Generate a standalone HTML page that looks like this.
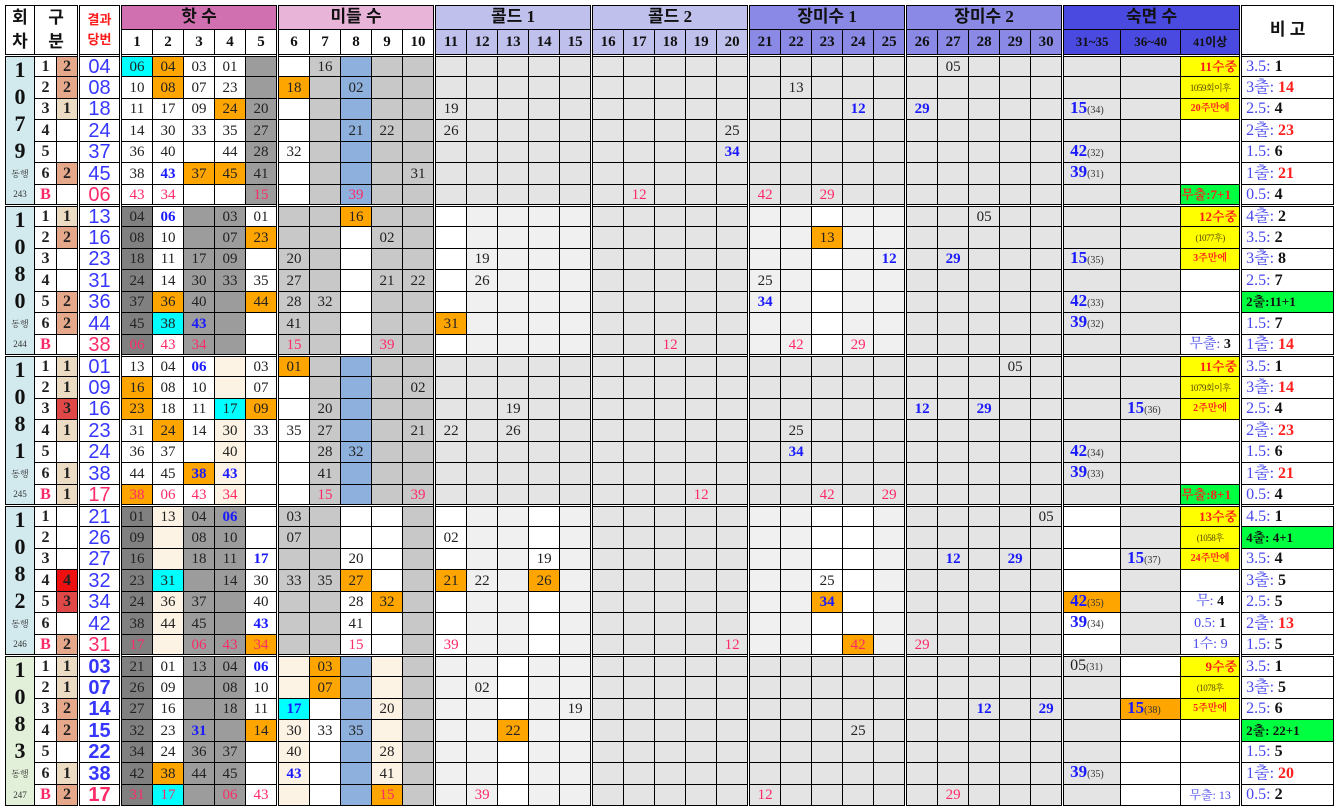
<!DOCTYPE html>
<html><head><meta charset="utf-8"><style>
body{margin:0;background:#fff;}
table{position:absolute;left:5px;top:5px;border-collapse:collapse;table-layout:fixed;width:1328px;font-family:"Liberation Serif","Noto Serif CJK KR",serif;}
td,th{border:1px solid #000;padding:0;overflow:hidden;white-space:nowrap;}
th{font-family:"Liberation Serif","Noto Sans CJK KR",sans-serif;font-weight:bold;font-size:16px;color:#111;line-height:18px}
thead tr.h1{height:23px}thead tr.h2{height:25px}
thead tr.h2 th{font-size:15px}
tbody tr{height:21px}
tbody td{height:20px;box-sizing:border-box}
tbody tr:nth-child(7n+2),tbody tr:nth-child(7n+4),tbody tr:nth-child(7n+6){height:22px}
tbody tr:nth-child(7n+2) td,tbody tr:nth-child(7n+4) td,tbody tr:nth-child(7n+6) td{height:21px}
td{font-size:15px;color:#222;text-align:center;background:#fff;line-height:14px}
td span{line-height:14px}
tbody td:nth-child(4),tbody td:nth-child(5),tbody td:nth-child(10),tbody td:nth-child(15),tbody td:nth-child(20),tbody td:nth-child(25),tbody td:nth-child(30),tbody td:nth-child(35),tbody td:nth-child(38){border-left:3px double #000}
.sl{border-left:3px double #000}
tr.t td{border-top:3px double #000}
tbody tr td:first-child{background:#d2e9ee;border-top-style:hidden}
tbody tr.t td:first-child{border-top:3px double #000}
tbody tr.b5 td:first-child{background:#e2efd9}
tbody td:nth-child(2),tbody td:nth-child(3){font-weight:bold;font-size:16px}
tbody td:nth-child(4){font-family:"Liberation Sans",sans-serif;font-size:20px;color:#3636ff}
tr.b5 td:nth-child(4){font-weight:bold}
tbody td:nth-child(n+15):nth-child(-n+36){background:#e4e4e4}
tbody td:nth-child(38){text-align:left;padding-left:4px;font-size:16px;font-weight:bold;color:#111}
tbody td:nth-child(37){font-size:14px}
tbody td:nth-child(35),tbody td:nth-child(36){text-align:left;padding-left:6px}
td.n{position:relative;overflow:visible}
.dg{position:absolute;left:0;right:0;top:0;height:107px;display:flex;flex-direction:column;justify-content:space-around;font-weight:bold;font-size:22px;line-height:22px;color:#111;text-align:center;z-index:2}
td.sm{font-size:9px!important;color:#333}
tr.b1 td:nth-child(9){background:#9c9c9c}
tr.b1 td:nth-child(11),tr.b1 td:nth-child(13),tr.b1 td:nth-child(14){background:#c8c8c8}
tr.b1 td:nth-child(12){background:#8db0dc}
tr.b2 td:nth-child(5){background:#808080}
tr.b2 td:nth-child(7),tr.b2 td:nth-child(8){background:#9c9c9c}
tr.b2 td:nth-child(10),tr.b2 td:nth-child(11),tr.b2 td:nth-child(13),tr.b2 td:nth-child(14){background:#c8c8c8}
tr.b2 td:nth-child(15),tr.b2 td:nth-child(27){background:#fff}
tr.b2 td:nth-child(n+16):nth-child(-n+19),tr.b2 td:nth-child(25),tr.b2 td:nth-child(26),tr.b2 td:nth-child(28),tr.b2 td:nth-child(29){background:#f0f0f0}
tr.b3 td:nth-child(8){background:#fdf3e4}
tr.b3 td:nth-child(11),tr.b3 td:nth-child(13),tr.b3 td:nth-child(14){background:#c8c8c8}
tr.b3 td:nth-child(12){background:#8db0dc}
tr.b4 td:nth-child(5){background:#808080}
tr.b4 td:nth-child(6){background:#fdf3e4}
tr.b4 td:nth-child(7),tr.b4 td:nth-child(8){background:#9c9c9c}
tr.b4 td:nth-child(10),tr.b4 td:nth-child(11),tr.b4 td:nth-child(14){background:#c8c8c8}
tr.b4 td:nth-child(15),tr.b4 td:nth-child(18),tr.b4 td:nth-child(27),tr.b4 td:nth-child(28),tr.b4 td:nth-child(35){background:#fff}
tr.b4 td:nth-child(16),tr.b4 td:nth-child(17),tr.b4 td:nth-child(19),tr.b4 td:nth-child(25),tr.b4 td:nth-child(26),tr.b4 td:nth-child(29){background:#f0f0f0}
tr.b5 td:nth-child(5){background:#808080}
tr.b5 td:nth-child(7),tr.b5 td:nth-child(8){background:#9c9c9c}
tr.b5 td:nth-child(10),tr.b5 td:nth-child(13){background:#fdf3e4}
tr.b5 td:nth-child(12){background:#8db0dc}
tr.b5 td:nth-child(14){background:#c8c8c8}
tr.b5 td:nth-child(15),tr.b5 td:nth-child(16),tr.b5 td:nth-child(18),tr.b5 td:nth-child(19){background:#f0f0f0}
tr.b5 td:nth-child(17),tr.b5 td:nth-child(36){background:#fff}
.o{background:#ffa500!important}.y{background:#00ffff!important}.Y{background:#ffff00!important}.G{background:#00ff40!important}
.S{background:#e6a88a!important}.E{background:#ecdcc4!important}.R{background:#ee1010!important}.P{background:#e04848!important}
td.r{color:#ff2a68!important}.u{color:#1a1aff!important;font-weight:bold}
td.bb{color:#ff2a68;font-weight:bold;font-size:17px}
.q{color:#4848ee;font-weight:normal}.x{color:#ff2020}
.k{color:#1a1aff;font-weight:bold;font-size:17px}.kk{font-size:10px;color:#333}
td.h1t{color:#ff1a1a;font-weight:bold;font-size:13px!important;text-align:right!important;padding-right:2px}
td.s1{font-size:9px!important;color:#554400;letter-spacing:-0.5px}
td.s2{font-size:10px!important;color:#ff2020;font-weight:bold}
td.gt{color:#ff2020;font-weight:bold;font-size:13px!important;text-align:left!important}
td.wt{font-weight:bold;color:#111}.wt span{color:#4848ee;font-weight:normal}
</style></head><body>
<table>
<colgroup><col style="width:29px"><col style="width:22px"><col style="width:22px"><col style="width:42px">
<col style="width:32px"><col style="width:31px"><col style="width:31px"><col style="width:31px"><col style="width:32px">
<col style="width:32px"><col style="width:31px"><col style="width:31px"><col style="width:31px"><col style="width:32px">
<col style="width:32px"><col style="width:31px"><col style="width:31px"><col style="width:31px"><col style="width:32px">
<col style="width:32px"><col style="width:31px"><col style="width:31px"><col style="width:31px"><col style="width:32px">
<col style="width:32px"><col style="width:31px"><col style="width:31px"><col style="width:31px"><col style="width:32px">
<col style="width:32px"><col style="width:31px"><col style="width:31px"><col style="width:31px"><col style="width:32px">
<col style="width:58px"><col style="width:60px"><col style="width:60px"><col style="width:93px"></colgroup>
<thead>
<tr class="h1"><th rowspan="2" style="font-size:17px;line-height:24px">회<br>차</th><th colspan="2" rowspan="2" style="font-size:17px;line-height:24px">구<br>분</th><th rowspan="2" class="sl" style="color:#ff1a1a;font-size:13px;line-height:20px">결과<br>당번</th>
<th colspan="5" class="sl" style="background:#d070b0;font-size:17px">핫 수</th>
<th colspan="5" class="sl" style="background:#e8b4d8;font-size:17px">미들 수</th>
<th colspan="5" class="sl" style="background:#c0c0ec;font-size:17px">콜드 1</th>
<th colspan="5" class="sl" style="background:#c0c0ec;font-size:17px">콜드 2</th>
<th colspan="5" class="sl" style="background:#8a8ae6;font-size:17px">장미수 1</th>
<th colspan="5" class="sl" style="background:#8a8ae6;font-size:17px">장미수 2</th>
<th colspan="3" class="sl" style="background:#4a4ae0;font-size:17px">숙면 수</th>
<th rowspan="2" class="sl" style="font-size:17px">비 고</th></tr>
<tr class="h2"><th class="sl">1</th><th>2</th><th>3</th><th>4</th><th>5</th>
<th class="sl">6</th><th>7</th><th>8</th><th>9</th><th>10</th>
<th class="sl" style="background:#c0c0ec">11</th><th style="background:#c0c0ec">12</th><th style="background:#c0c0ec">13</th><th style="background:#c0c0ec">14</th><th style="background:#c0c0ec">15</th>
<th class="sl" style="background:#c0c0ec">16</th><th style="background:#c0c0ec">17</th><th style="background:#c0c0ec">18</th><th style="background:#c0c0ec">19</th><th style="background:#c0c0ec">20</th>
<th class="sl" style="background:#8a8ae6">21</th><th style="background:#8a8ae6">22</th><th style="background:#8a8ae6">23</th><th style="background:#8a8ae6">24</th><th style="background:#8a8ae6">25</th>
<th class="sl" style="background:#8a8ae6">26</th><th style="background:#8a8ae6">27</th><th style="background:#8a8ae6">28</th><th style="background:#8a8ae6">29</th><th style="background:#8a8ae6">30</th>
<th class="sl" style="background:#4a4ae0;font-size:13px">31~35</th><th style="background:#4a4ae0;font-size:13px">36~40</th><th style="background:#4a4ae0;font-size:12px">41이상</th></tr>
</thead>
<tbody>
<tr class="b1 t"><td class="n"><div class="dg"><span>1</span><span>0</span><span>7</span><span>9</span></div></td><td>1</td><td class="S">2</td><td>04</td>
<td class="y">06</td><td class="o">04</td><td>03</td><td>01</td><td></td>
<td></td><td>16</td><td></td><td></td><td></td>
<td></td><td></td><td></td><td></td><td></td>
<td></td><td></td><td></td><td></td><td></td>
<td></td><td></td><td></td><td></td><td></td>
<td></td><td>05</td><td></td><td></td><td></td>
<td></td><td></td><td class="Y h1t">11수중</td><td><span class="q">3.5:</span> 1</td></tr>
<tr class="b1"><td></td><td>2</td><td class="S">2</td><td>08</td>
<td>10</td><td class="o">08</td><td>07</td><td>23</td><td></td>
<td class="o">18</td><td></td><td>02</td><td></td><td></td>
<td></td><td></td><td></td><td></td><td></td>
<td></td><td></td><td></td><td></td><td></td>
<td></td><td>13</td><td></td><td></td><td></td>
<td></td><td></td><td></td><td></td><td></td>
<td></td><td></td><td class="Y s1">1059회이후</td><td><span class="q">3출:</span> <span class="x">14</span></td></tr>
<tr class="b1"><td></td><td>3</td><td class="E">1</td><td>18</td>
<td>11</td><td>17</td><td>09</td><td class="o">24</td><td>20</td>
<td></td><td></td><td></td><td></td><td></td>
<td>19</td><td></td><td></td><td></td><td></td>
<td></td><td></td><td></td><td></td><td></td>
<td></td><td></td><td></td><td class="u">12</td><td></td>
<td class="u">29</td><td></td><td></td><td></td><td></td>
<td><span class="k">15</span><span class="kk">(34)</span></td><td></td><td class="Y s2">20주만에</td><td><span class="q">2.5:</span> 4</td></tr>
<tr class="b1"><td></td><td>4</td><td></td><td>24</td>
<td>14</td><td>30</td><td>33</td><td>35</td><td>27</td>
<td></td><td></td><td>21</td><td>22</td><td></td>
<td>26</td><td></td><td></td><td></td><td></td>
<td></td><td></td><td></td><td></td><td>25</td>
<td></td><td></td><td></td><td></td><td></td>
<td></td><td></td><td></td><td></td><td></td>
<td></td><td></td><td></td><td><span class="q">2출:</span> <span class="x">23</span></td></tr>
<tr class="b1"><td></td><td>5</td><td></td><td>37</td>
<td>36</td><td>40</td><td></td><td>44</td><td>28</td>
<td>32</td><td></td><td></td><td></td><td></td>
<td></td><td></td><td></td><td></td><td></td>
<td></td><td></td><td></td><td></td><td class="u">34</td>
<td></td><td></td><td></td><td></td><td></td>
<td></td><td></td><td></td><td></td><td></td>
<td><span class="k">42</span><span class="kk">(32)</span></td><td></td><td></td><td><span class="q">1.5:</span> 6</td></tr>
<tr class="b1"><td class="sm">동행</td><td>6</td><td class="S">2</td><td>45</td>
<td>38</td><td class="u">43</td><td class="o">37</td><td class="o">45</td><td>41</td>
<td></td><td></td><td></td><td></td><td>31</td>
<td></td><td></td><td></td><td></td><td></td>
<td></td><td></td><td></td><td></td><td></td>
<td></td><td></td><td></td><td></td><td></td>
<td></td><td></td><td></td><td></td><td></td>
<td><span class="k">39</span><span class="kk">(31)</span></td><td></td><td></td><td><span class="q">1출:</span> <span class="x">21</span></td></tr>
<tr class="b1"><td class="sm">243</td><td class="bb">B</td><td></td><td class="r">06</td>
<td class="r">43</td><td class="r">34</td><td></td><td></td><td class="r">15</td>
<td></td><td></td><td class="r">39</td><td></td><td></td>
<td></td><td></td><td></td><td></td><td></td>
<td></td><td class="r">12</td><td></td><td></td><td></td>
<td class="r">42</td><td></td><td class="r">29</td><td></td><td></td>
<td></td><td></td><td></td><td></td><td></td>
<td></td><td></td><td class="G gt">무출:7+1</td><td><span class="q">0.5:</span> 4</td></tr>
<tr class="b2 t"><td class="n"><div class="dg"><span>1</span><span>0</span><span>8</span><span>0</span></div></td><td>1</td><td class="E">1</td><td>13</td>
<td>04</td><td class="u">06</td><td></td><td>03</td><td>01</td>
<td></td><td></td><td class="o">16</td><td></td><td></td>
<td></td><td></td><td></td><td></td><td></td>
<td></td><td></td><td></td><td></td><td></td>
<td></td><td></td><td></td><td></td><td></td>
<td></td><td></td><td>05</td><td></td><td></td>
<td></td><td></td><td class="Y h1t">12수중</td><td><span class="q">4출:</span> 2</td></tr>
<tr class="b2"><td></td><td>2</td><td class="S">2</td><td>16</td>
<td>08</td><td>10</td><td></td><td>07</td><td class="o">23</td>
<td></td><td></td><td></td><td>02</td><td></td>
<td></td><td></td><td></td><td></td><td></td>
<td></td><td></td><td></td><td></td><td></td>
<td></td><td></td><td class="o">13</td><td></td><td></td>
<td></td><td></td><td></td><td></td><td></td>
<td></td><td></td><td class="Y s1">(1077후)</td><td><span class="q">3.5:</span> 2</td></tr>
<tr class="b2"><td></td><td>3</td><td></td><td>23</td>
<td>18</td><td>11</td><td>17</td><td>09</td><td></td>
<td>20</td><td></td><td></td><td></td><td></td>
<td></td><td>19</td><td></td><td></td><td></td>
<td></td><td></td><td></td><td></td><td></td>
<td></td><td></td><td></td><td></td><td class="u">12</td>
<td></td><td class="u">29</td><td></td><td></td><td></td>
<td><span class="k">15</span><span class="kk">(35)</span></td><td></td><td class="Y s2">3주만에</td><td><span class="q">3출:</span> 8</td></tr>
<tr class="b2"><td></td><td>4</td><td></td><td>31</td>
<td>24</td><td>14</td><td>30</td><td>33</td><td>35</td>
<td>27</td><td></td><td></td><td>21</td><td>22</td>
<td></td><td>26</td><td></td><td></td><td></td>
<td></td><td></td><td></td><td></td><td></td>
<td>25</td><td></td><td></td><td></td><td></td>
<td></td><td></td><td></td><td></td><td></td>
<td></td><td></td><td></td><td><span class="q">2.5:</span> 7</td></tr>
<tr class="b2"><td></td><td>5</td><td class="S">2</td><td>36</td>
<td>37</td><td class="o">36</td><td>40</td><td></td><td class="o">44</td>
<td>28</td><td>32</td><td></td><td></td><td></td>
<td></td><td></td><td></td><td></td><td></td>
<td></td><td></td><td></td><td></td><td></td>
<td class="u">34</td><td></td><td></td><td></td><td></td>
<td></td><td></td><td></td><td></td><td></td>
<td><span class="k">42</span><span class="kk">(33)</span></td><td></td><td></td><td class="G gt">2출:11+1</td></tr>
<tr class="b2"><td class="sm">동행</td><td>6</td><td class="S">2</td><td>44</td>
<td>45</td><td class="y">38</td><td class="u">43</td><td></td><td></td>
<td>41</td><td></td><td></td><td></td><td></td>
<td class="o">31</td><td></td><td></td><td></td><td></td>
<td></td><td></td><td></td><td></td><td></td>
<td></td><td></td><td></td><td></td><td></td>
<td></td><td></td><td></td><td></td><td></td>
<td><span class="k">39</span><span class="kk">(32)</span></td><td></td><td></td><td><span class="q">1.5:</span> 7</td></tr>
<tr class="b2"><td class="sm">244</td><td class="bb">B</td><td></td><td class="r">38</td>
<td class="r">06</td><td class="r">43</td><td class="r">34</td><td></td><td></td>
<td class="r">15</td><td></td><td></td><td class="r">39</td><td></td>
<td></td><td></td><td></td><td></td><td></td>
<td></td><td></td><td class="r">12</td><td></td><td></td>
<td></td><td class="r">42</td><td></td><td class="r">29</td><td></td>
<td></td><td></td><td></td><td></td><td></td>
<td></td><td></td><td class="wt"><span>무출:</span> 3</td><td><span class="q">1출:</span> <span class="x">14</span></td></tr>
<tr class="b3 t"><td class="n"><div class="dg"><span>1</span><span>0</span><span>8</span><span>1</span></div></td><td>1</td><td class="E">1</td><td>01</td>
<td>13</td><td>04</td><td class="u">06</td><td></td><td>03</td>
<td class="o">01</td><td></td><td></td><td></td><td></td>
<td></td><td></td><td></td><td></td><td></td>
<td></td><td></td><td></td><td></td><td></td>
<td></td><td></td><td></td><td></td><td></td>
<td></td><td></td><td></td><td>05</td><td></td>
<td></td><td></td><td class="Y h1t">11수중</td><td><span class="q">3.5:</span> 1</td></tr>
<tr class="b3"><td></td><td>2</td><td class="E">1</td><td>09</td>
<td class="o">16</td><td>08</td><td>10</td><td></td><td>07</td>
<td></td><td></td><td></td><td></td><td>02</td>
<td></td><td></td><td></td><td></td><td></td>
<td></td><td></td><td></td><td></td><td></td>
<td></td><td></td><td></td><td></td><td></td>
<td></td><td></td><td></td><td></td><td></td>
<td></td><td></td><td class="Y s1">1079회이후</td><td><span class="q">3출:</span> <span class="x">14</span></td></tr>
<tr class="b3"><td></td><td>3</td><td class="P">3</td><td>16</td>
<td class="o">23</td><td>18</td><td>11</td><td class="y">17</td><td class="o">09</td>
<td></td><td>20</td><td></td><td></td><td></td>
<td></td><td></td><td>19</td><td></td><td></td>
<td></td><td></td><td></td><td></td><td></td>
<td></td><td></td><td></td><td></td><td></td>
<td class="u">12</td><td></td><td class="u">29</td><td></td><td></td>
<td></td><td><span class="k">15</span><span class="kk">(36)</span></td><td class="Y s2">2주만에</td><td><span class="q">2.5:</span> 4</td></tr>
<tr class="b3"><td></td><td>4</td><td class="E">1</td><td>23</td>
<td>31</td><td class="o">24</td><td>14</td><td>30</td><td>33</td>
<td>35</td><td>27</td><td></td><td></td><td>21</td>
<td>22</td><td></td><td>26</td><td></td><td></td>
<td></td><td></td><td></td><td></td><td></td>
<td></td><td>25</td><td></td><td></td><td></td>
<td></td><td></td><td></td><td></td><td></td>
<td></td><td></td><td></td><td><span class="q">2출:</span> <span class="x">23</span></td></tr>
<tr class="b3"><td></td><td>5</td><td></td><td>24</td>
<td>36</td><td>37</td><td></td><td>40</td><td></td>
<td></td><td>28</td><td>32</td><td></td><td></td>
<td></td><td></td><td></td><td></td><td></td>
<td></td><td></td><td></td><td></td><td></td>
<td></td><td class="u">34</td><td></td><td></td><td></td>
<td></td><td></td><td></td><td></td><td></td>
<td><span class="k">42</span><span class="kk">(34)</span></td><td></td><td></td><td><span class="q">1.5:</span> 6</td></tr>
<tr class="b3"><td class="sm">동행</td><td>6</td><td class="E">1</td><td>38</td>
<td>44</td><td>45</td><td class="o u">38</td><td class="u">43</td><td></td>
<td></td><td>41</td><td></td><td></td><td></td>
<td></td><td></td><td></td><td></td><td></td>
<td></td><td></td><td></td><td></td><td></td>
<td></td><td></td><td></td><td></td><td></td>
<td></td><td></td><td></td><td></td><td></td>
<td><span class="k">39</span><span class="kk">(33)</span></td><td></td><td></td><td><span class="q">1출:</span> <span class="x">21</span></td></tr>
<tr class="b3"><td class="sm">245</td><td class="bb">B</td><td class="E">1</td><td class="r">17</td>
<td class="o r">38</td><td class="r">06</td><td class="r">43</td><td class="r">34</td><td></td>
<td></td><td class="r">15</td><td></td><td></td><td class="r">39</td>
<td></td><td></td><td></td><td></td><td></td>
<td></td><td></td><td></td><td class="r">12</td><td></td>
<td></td><td></td><td class="r">42</td><td></td><td class="r">29</td>
<td></td><td></td><td></td><td></td><td></td>
<td></td><td></td><td class="G gt">무출:8+1</td><td><span class="q">0.5:</span> 4</td></tr>
<tr class="b4 t"><td class="n"><div class="dg"><span>1</span><span>0</span><span>8</span><span>2</span></div></td><td>1</td><td></td><td>21</td>
<td>01</td><td>13</td><td>04</td><td class="u">06</td><td></td>
<td>03</td><td></td><td></td><td></td><td></td>
<td></td><td></td><td></td><td></td><td></td>
<td></td><td></td><td></td><td></td><td></td>
<td></td><td></td><td></td><td></td><td></td>
<td></td><td></td><td></td><td></td><td>05</td>
<td></td><td></td><td class="Y h1t">13수중</td><td><span class="q">4.5:</span> 1</td></tr>
<tr class="b4"><td></td><td>2</td><td></td><td>26</td>
<td>09</td><td></td><td>08</td><td>10</td><td></td>
<td>07</td><td></td><td></td><td></td><td></td>
<td>02</td><td></td><td></td><td></td><td></td>
<td></td><td></td><td></td><td></td><td></td>
<td></td><td></td><td></td><td></td><td></td>
<td></td><td></td><td></td><td></td><td></td>
<td></td><td></td><td class="Y s1">(1058후</td><td class="G gt">4출: 4+1</td></tr>
<tr class="b4"><td></td><td>3</td><td></td><td>27</td>
<td>16</td><td></td><td>18</td><td>11</td><td class="u">17</td>
<td></td><td></td><td>20</td><td></td><td></td>
<td></td><td></td><td></td><td>19</td><td></td>
<td></td><td></td><td></td><td></td><td></td>
<td></td><td></td><td></td><td></td><td></td>
<td></td><td class="u">12</td><td></td><td class="u">29</td><td></td>
<td></td><td><span class="k">15</span><span class="kk">(37)</span></td><td class="Y s2">24주만에</td><td><span class="q">3.5:</span> 4</td></tr>
<tr class="b4"><td></td><td>4</td><td class="R">4</td><td>32</td>
<td>23</td><td class="y">31</td><td></td><td>14</td><td>30</td>
<td>33</td><td>35</td><td class="o">27</td><td></td><td></td>
<td class="o">21</td><td>22</td><td></td><td class="o">26</td><td></td>
<td></td><td></td><td></td><td></td><td></td>
<td></td><td></td><td>25</td><td></td><td></td>
<td></td><td></td><td></td><td></td><td></td>
<td></td><td></td><td></td><td><span class="q">3출:</span> 5</td></tr>
<tr class="b4"><td></td><td>5</td><td class="P">3</td><td>34</td>
<td>24</td><td>36</td><td>37</td><td></td><td>40</td>
<td></td><td></td><td>28</td><td class="o">32</td><td></td>
<td></td><td></td><td></td><td></td><td></td>
<td></td><td></td><td></td><td></td><td></td>
<td></td><td></td><td class="o u">34</td><td></td><td></td>
<td></td><td></td><td></td><td></td><td></td>
<td class="o"><span class="k">42</span><span class="kk">(35)</span></td><td></td><td class="wt"><span>무:</span> 4</td><td><span class="q">2.5:</span> 5</td></tr>
<tr class="b4"><td class="sm">동행</td><td>6</td><td></td><td>42</td>
<td>38</td><td>44</td><td>45</td><td></td><td class="u">43</td>
<td></td><td></td><td>41</td><td></td><td></td>
<td></td><td></td><td></td><td></td><td></td>
<td></td><td></td><td></td><td></td><td></td>
<td></td><td></td><td></td><td></td><td></td>
<td></td><td></td><td></td><td></td><td></td>
<td><span class="k">39</span><span class="kk">(34)</span></td><td></td><td class="wt"><span>0.5:</span> 1</td><td><span class="q">2출:</span> <span class="x">13</span></td></tr>
<tr class="b4"><td class="sm">246</td><td class="bb">B</td><td class="S">2</td><td class="r">31</td>
<td class="r">17</td><td></td><td class="r">06</td><td class="r">43</td><td class="o r">34</td>
<td></td><td></td><td class="r">15</td><td></td><td></td>
<td class="r">39</td><td></td><td></td><td></td><td></td>
<td></td><td></td><td></td><td></td><td class="r">12</td>
<td></td><td></td><td></td><td class="o r">42</td><td></td>
<td class="r">29</td><td></td><td></td><td></td><td></td>
<td></td><td></td><td class="wt"><span>1수:</span> <span class="x">9</span></td><td><span class="q">1.5:</span> 5</td></tr>
<tr class="b5 t"><td class="n"><div class="dg"><span>1</span><span>0</span><span>8</span><span>3</span></div></td><td>1</td><td class="E">1</td><td>03</td>
<td>21</td><td>01</td><td>13</td><td>04</td><td class="u">06</td>
<td></td><td class="o">03</td><td></td><td></td><td></td>
<td></td><td></td><td></td><td></td><td></td>
<td></td><td></td><td></td><td></td><td></td>
<td></td><td></td><td></td><td></td><td></td>
<td></td><td></td><td></td><td></td><td></td>
<td><span style="font-size:16px">05</span><span class="kk">(31)</span></td><td></td><td class="Y h1t">9수중</td><td><span class="q">3.5:</span> 1</td></tr>
<tr class="b5"><td></td><td>2</td><td class="E">1</td><td>07</td>
<td>26</td><td>09</td><td></td><td>08</td><td>10</td>
<td></td><td class="o">07</td><td></td><td></td><td></td>
<td></td><td>02</td><td></td><td></td><td></td>
<td></td><td></td><td></td><td></td><td></td>
<td></td><td></td><td></td><td></td><td></td>
<td></td><td></td><td></td><td></td><td></td>
<td></td><td></td><td class="Y s1">(1078후</td><td><span class="q">3출:</span> 5</td></tr>
<tr class="b5"><td></td><td>3</td><td class="S">2</td><td>14</td>
<td>27</td><td>16</td><td></td><td>18</td><td>11</td>
<td class="y u">17</td><td></td><td></td><td>20</td><td></td>
<td></td><td></td><td></td><td></td><td>19</td>
<td></td><td></td><td></td><td></td><td></td>
<td></td><td></td><td></td><td></td><td></td>
<td></td><td></td><td class="u">12</td><td></td><td class="u">29</td>
<td></td><td class="o"><span class="k">15</span><span class="kk">(38)</span></td><td class="Y s2">5주만에</td><td><span class="q">2.5:</span> 6</td></tr>
<tr class="b5"><td></td><td>4</td><td class="S">2</td><td>15</td>
<td>32</td><td>23</td><td class="u">31</td><td></td><td class="o">14</td>
<td>30</td><td>33</td><td>35</td><td></td><td></td>
<td></td><td></td><td class="o">22</td><td></td><td></td>
<td></td><td></td><td></td><td></td><td></td>
<td></td><td></td><td></td><td>25</td><td></td>
<td></td><td></td><td></td><td></td><td></td>
<td></td><td></td><td></td><td class="G gt">2출: 22+1</td></tr>
<tr class="b5"><td></td><td>5</td><td></td><td>22</td>
<td>34</td><td>24</td><td>36</td><td>37</td><td></td>
<td>40</td><td></td><td></td><td>28</td><td></td>
<td></td><td></td><td></td><td></td><td></td>
<td></td><td></td><td></td><td></td><td></td>
<td></td><td></td><td></td><td></td><td></td>
<td></td><td></td><td></td><td></td><td></td>
<td></td><td></td><td></td><td><span class="q">1.5:</span> 5</td></tr>
<tr class="b5"><td class="sm">동행</td><td>6</td><td class="E">1</td><td>38</td>
<td>42</td><td class="o">38</td><td>44</td><td>45</td><td></td>
<td class="u">43</td><td></td><td></td><td>41</td><td></td>
<td></td><td></td><td></td><td></td><td></td>
<td></td><td></td><td></td><td></td><td></td>
<td></td><td></td><td></td><td></td><td></td>
<td></td><td></td><td></td><td></td><td></td>
<td><span class="k">39</span><span class="kk">(35)</span></td><td></td><td></td><td><span class="q">1출:</span> <span class="x">20</span></td></tr>
<tr class="b5"><td class="sm">247</td><td class="bb">B</td><td class="S">2</td><td class="r">17</td>
<td class="r">31</td><td class="y r">17</td><td></td><td class="r">06</td><td class="r">43</td>
<td></td><td></td><td></td><td class="o r">15</td><td></td>
<td></td><td class="r">39</td><td></td><td></td><td></td>
<td></td><td></td><td></td><td></td><td></td>
<td class="r">12</td><td></td><td></td><td></td><td></td>
<td></td><td class="r">29</td><td></td><td></td><td></td>
<td></td><td></td><td class="wt" style="font-size:12px"><span>무출:</span> <span class="x">13</span></td><td><span class="q">0.5:</span> 2</td></tr>
</tbody></table>
</body></html>
